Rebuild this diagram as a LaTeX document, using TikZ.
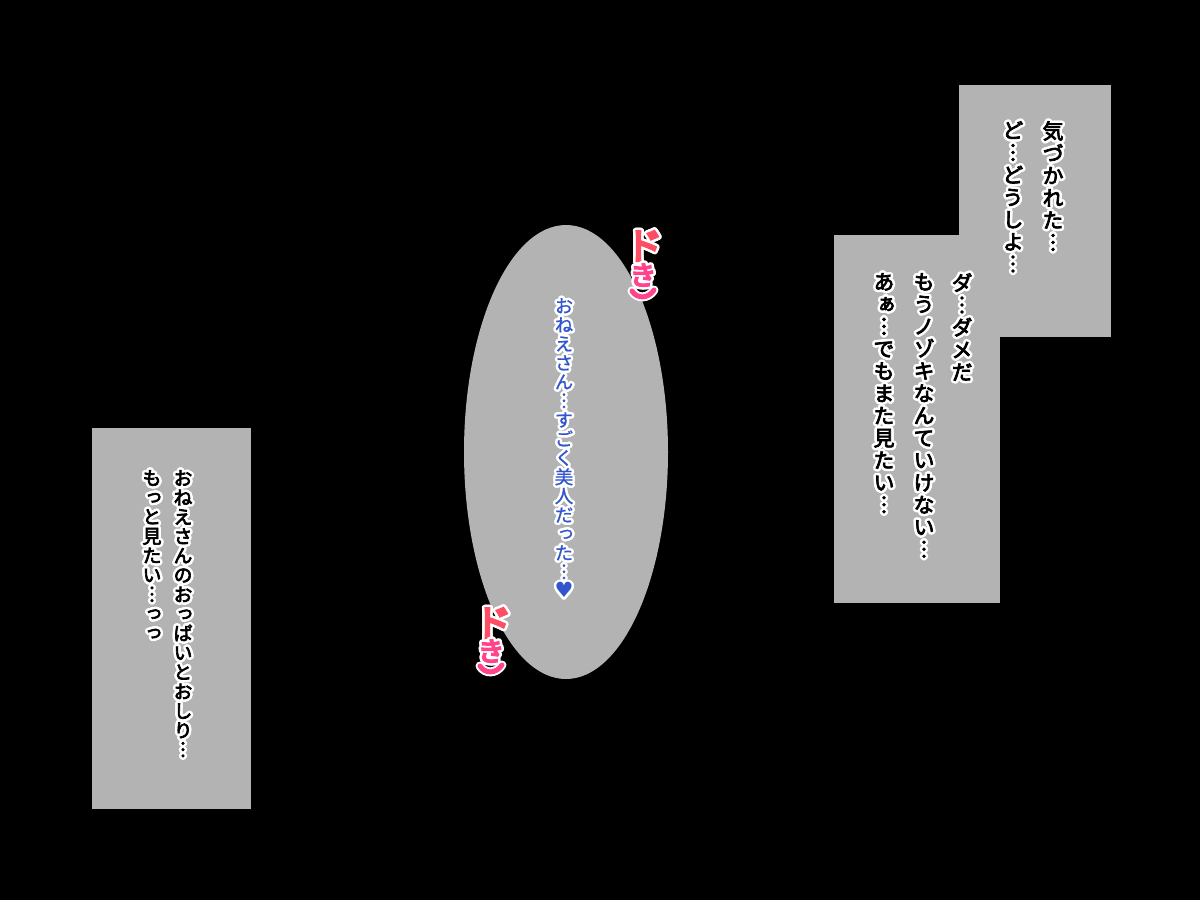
\documentclass[tikz,border=0pt]{standalone}
\usepackage{fontspec}
\newfontfamily\jp{Noto Sans CJK JP}[FakeBold=3.5,RawFeature=+vert]
\newfontfamily\jpx{Noto Sans CJK JP}[FakeBold=6,RawFeature=+vert]
\newfontfamily\jpr{Noto Sans CJK JP}[FakeBold=0.8,RawFeature=+vert]
\newfontfamily\dejavu{DejaVu Sans}
\definecolor{panel}{RGB}{179,179,179}
\definecolor{bluetxt}{RGB}{50,85,205}
\definecolor{dokiA}{RGB}{255,78,100}
\definecolor{dokiB}{RGB}{255,68,140}
\tikzset{
  vbig/.style={anchor=north, align=center, inner sep=0pt, font=\jp\fontsize{21}{22.3}\selectfont},
  vmid/.style={anchor=north, align=center, inner sep=0pt, font=\jp\fontsize{19}{19.4}\selectfont},
  vblue/.style={anchor=north, align=center, inner sep=0pt, font=\jpr\fontsize{18.5}{19}\selectfont},
  dokiD/.style={inner sep=0pt, font=\jpx\fontsize{38}{38}\selectfont},
  dokiK/.style={inner sep=0pt, font=\jpx\fontsize{27}{27}\selectfont},
  panelbox/.style={fill=panel, draw=none},
  dokicurve/.style={draw=dokiB, line width=5pt, line cap=round},
  dokihalo/.style={draw=white, line width=9pt, line cap=round},
}
% outlined text: #1 name, #2 position, #3 style, #4 colour, #5 text
\newcommand\outlined[5]{%
  \foreach \dx/\dy in {2.5/0,2.31/0.96,1.77/1.77,0.96/2.31,0/2.5,-0.96/2.31,-1.77/1.77,-2.31/0.96,-2.5/0,-2.31/-0.96,-1.77/-1.77,-0.96/-2.31,0/-2.5,0.96/-2.31,1.77/-1.77,2.31/-0.96}{%
    \node[#3, text=white, xshift=\dx pt, yshift=\dy pt] at #2 {#5};}%
  \node[#3, text=#4] (#1) at #2 {#5};%
}
\begin{document}
\begin{tikzpicture}[x=1pt,y=-1pt]
\fill[black] (0,0) rectangle (1200,900);
\useasboundingbox (0,0) rectangle (1200,900);

% panels
\fill[panelbox] (959,85) rectangle (1111,337);
\fill[panelbox] (834,235) rectangle (1000,603);
\fill[panelbox] (92,428) rectangle (251,809);
\fill[panel] (566,452) ellipse [x radius=102, y radius=227];

% top-right texts
\outlined{c1}{(1053,121)}{vbig}{black}{気\\づ\\か\\れ\\た\\︙}
\outlined{c2}{(1013,121)}{vbig}{black}{ど\\︙\\ど\\う\\し\\よ\\︙}
\outlined{c3}{(962,273)}{vbig}{black}{ダ\\︙\\ダ\\メ\\だ}
\outlined{c4}{(924,273)}{vbig}{black}{も\\う\\ノ\\ゾ\\キ\\な\\ん\\て\\い\\け\\な\\い\\︙}
\outlined{c5}{(884,273)}{vbig}{black}{あ\\ぁ\\︙\\で\\も\\ま\\た\\見\\た\\い\\︙}

% left texts
\outlined{l1}{(183,470)}{vmid}{black}{お\\ね\\え\\さ\\ん\\の\\お\\っ\\ぱ\\い\\と\\お\\し\\り\\︙}
\outlined{l2}{(152,470)}{vmid}{black}{も\\っ\\と\\見\\た\\い\\︙\\っ\\っ}

% ellipse text
\outlined{e1}{(564,298)}{vblue}{bluetxt}{お\\ね\\え\\さ\\ん\\︙\\す\\ご\\く\\美\\人\\だ\\っ\\た\\︙\\{\dejavu\fontsize{21}{19}\selectfont ♥}}

% doki top
\outlined{d1}{(644,246)}{dokiD}{dokiA}{ド}
\outlined{k1}{(643,275)}{dokiK}{dokiB}{き}
\draw[dokihalo] (632,291) .. controls (637,299) and (648,299) .. (654,290);
\draw[dokicurve] (632,291) .. controls (637,299) and (648,299) .. (654,290);

% doki bottom
\outlined{d2}{(493,623)}{dokiD}{dokiA}{ド}
\outlined{k2}{(491,651)}{dokiK}{dokiB}{き}
\draw[dokihalo] (480,666) .. controls (485,674) and (496,674) .. (502,665);
\draw[dokicurve] (480,666) .. controls (485,674) and (496,674) .. (502,665);
\end{tikzpicture}
\end{document}
